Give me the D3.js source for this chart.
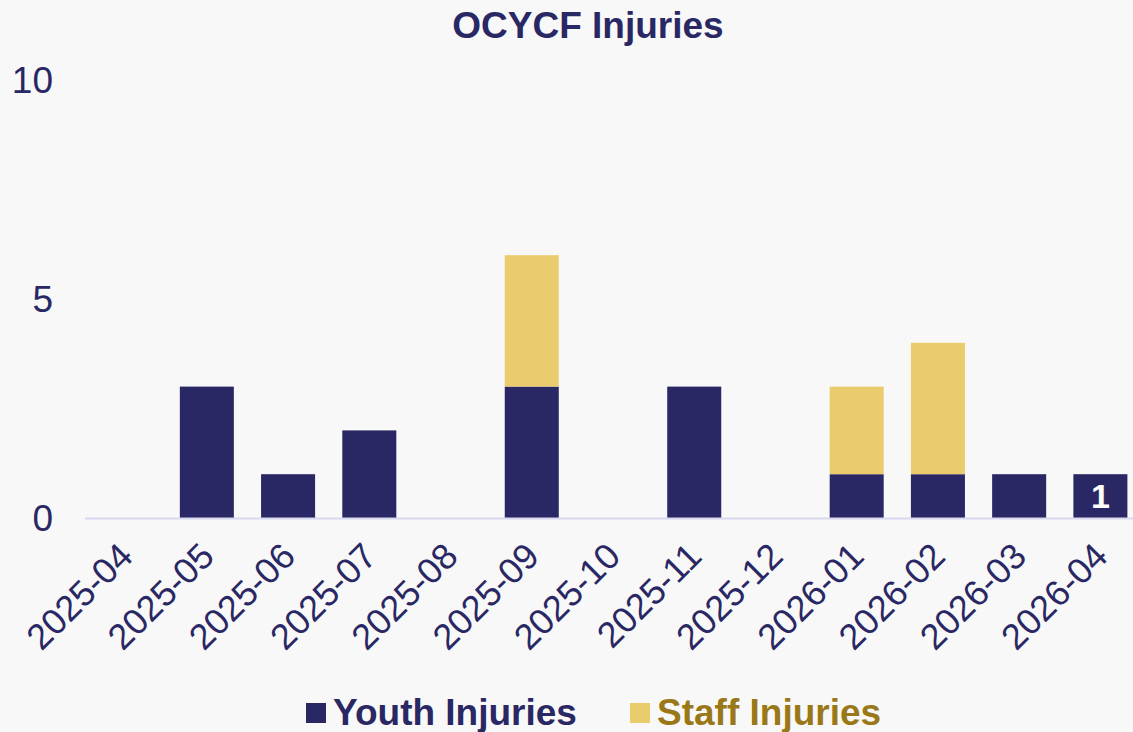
<!DOCTYPE html>
<html>
<head>
<meta charset="utf-8">
<script src="https://cdn.jsdelivr.net/npm/d3@7"></script>
<style>
  body { margin: 0; background: #f8f8f8; }
</style>
</head>
<body>
<div id="chart"></div>
<script>
// Data
const months = ["2025-04", "2025-05", "2025-06", "2025-07", "2025-08", "2025-09", "2025-10",
  "2025-11", "2025-12", "2026-01", "2026-02", "2026-03", "2026-04"];
const youthInjuries = [0, 3, 1, 2, 0, 3, 0, 3, 0, 1, 1, 1, 1];
const staffInjuries = [0, 0, 0, 0, 0, 3, 0, 0, 0, 2, 3, 0, 0];
const yTicks = [0, 5, 10];

const navy = "#2a2864";
const gold = "#eacb6e";
const goldText = "#9a7818";
const font = "'Liberation Sans', Arial, Helvetica, sans-serif";

const width = 1133, height = 732;

const svg = d3.select("#chart").append("svg")
  .attr("width", width)
  .attr("height", height)
  .style("display", "block");

svg.append("rect").attr("width", width).attr("height", height).attr("fill", "#f8f8f8");

const x = d3.scaleBand()
  .domain(months)
  .range([85, 1141])
  .paddingInner(0.335)
  .paddingOuter(0.1675);

const y = d3.scaleLinear()
  .domain([0, 10])
  .range([518, 80]);

// stacked data
const rows = months.map((m, i) => ({ month: m, youth: youthInjuries[i], staff: staffInjuries[i] }));
const stack = d3.stack().keys(["youth", "staff"])(rows);
const colors = { youth: navy, staff: gold };

// Title
svg.append("text")
  .attr("x", 588)
  .attr("y", 38)
  .attr("text-anchor", "middle")
  .attr("fill", navy)
  .attr("font-family", font)
  .attr("font-size", 37)
  .attr("font-weight", "bold")
  .text("OCYCF Injuries");

// Y axis labels
svg.append("g")
  .selectAll("text")
  .data(yTicks)
  .join("text")
  .attr("x", 53)
  .attr("y", d => y(d))
  .attr("dy", "0.36em")
  .attr("text-anchor", "end")
  .attr("fill", navy)
  .attr("font-family", font)
  .attr("font-size", 37)
  .text(d => d);

// Bars
svg.append("g")
  .selectAll("g")
  .data(stack)
  .join("g")
  .attr("fill", d => colors[d.key])
  .selectAll("rect")
  .data(d => d)
  .join("rect")
  .attr("x", d => x(d.data.month))
  .attr("y", d => y(d[1]))
  .attr("width", x.bandwidth())
  .attr("height", d => y(d[0]) - y(d[1]));

// X axis line
svg.append("line")
  .attr("x1", 85).attr("x2", width)
  .attr("y1", y(0) + 0.5).attr("y2", y(0) + 0.5)
  .attr("stroke", "#d8d8f0")
  .attr("stroke-width", 2);

// Data label on the last bar
const last = rows[rows.length - 1];
svg.append("text")
  .attr("x", x(last.month) + x.bandwidth() / 2)
  .attr("y", (y(0) + y(last.youth)) / 2)
  .attr("dy", "0.36em")
  .attr("text-anchor", "middle")
  .attr("fill", "#ffffff")
  .attr("font-family", font)
  .attr("font-size", 34)
  .attr("font-weight", "bold")
  .text(last.youth);

// X axis labels
svg.append("g")
  .selectAll("text")
  .data(months)
  .join("text")
  .attr("transform", d => `translate(${x(d) + x.bandwidth() / 2 - 9},${540}) rotate(-45)`)
  .attr("text-anchor", "end")
  .attr("dy", "0.72em")
  .attr("fill", navy)
  .attr("font-family", font)
  .attr("font-size", 36)
  .text(d => d);

// Legend
const legend = [
  { label: "Youth Injuries", color: navy, text: navy, x: 306 },
  { label: "Staff Injuries", color: gold, text: goldText, x: 630 }
];
const lg = svg.append("g")
  .selectAll("g")
  .data(legend)
  .join("g")
  .attr("transform", d => `translate(${d.x},703)`);
lg.append("rect")
  .attr("width", 20).attr("height", 20)
  .attr("fill", d => d.color);
lg.append("text")
  .attr("x", 27)
  .attr("y", 22)
  .attr("fill", d => d.text)
  .attr("font-family", font)
  .attr("font-size", 37)
  .attr("font-weight", "bold")
  .text(d => d.label);
</script>
</body>
</html>
